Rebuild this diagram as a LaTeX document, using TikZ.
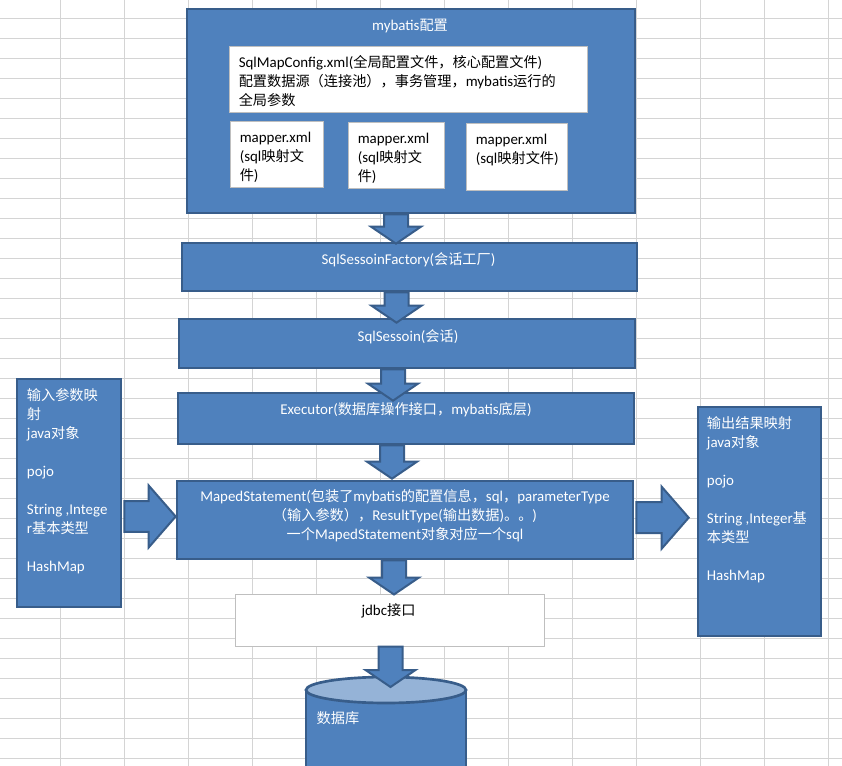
\documentclass[tikz,border=0pt]{standalone}
\usepackage{fontspec}
\setmainfont{Carlito}
\newfontfamily\zh[Scale=0.95]{Noto Sans CJK SC}
\usetikzlibrary{calc, fit, positioning}

\definecolor{xlblue}{HTML}{4F81BD}
\definecolor{xlline}{HTML}{385D8A}
\definecolor{xllight}{HTML}{95B3D7}
\definecolor{xlgrid}{HTML}{D4D4D4}
\definecolor{xlgray}{HTML}{BFBFBF}

\tikzset{
  gridline/.style={draw=xlgrid, line width=0.75pt},
  bluebox/.style={draw=xlline, fill=xlblue, line width=2pt, inner sep=0pt},
  whitebox/.style={draw=xlgray, fill=white, line width=0.75pt, inner sep=0pt},
  blkarrow/.style={draw=xlline, fill=xlblue, line width=1.5pt, line join=miter},
  dbbody/.style={draw=xlline, fill=xlblue, line width=2pt},
  wtext/.style={text=white, inner sep=0pt, font=\fontsize{11.2}{14.25}\selectfont},
  btext/.style={text=black, inner sep=0pt, font=\fontsize{11.2}{14.25}\selectfont},
}

% block arrow pointing down: #1 start (shaft top), #2 gives the tip height
\newcommand{\downblk}[2]{%
  \draw[blkarrow] let \p1=(#1), \p2=(#2) in
    (\x1-9pt,\y1) -- (\x1-9pt,\y2+12.75pt) -- (\x1-18.75pt,\y2+12.75pt) -- (\x1,\y2)
    -- (\x1+18.75pt,\y2+12.75pt) -- (\x1+9pt,\y2+12.75pt) -- (\x1+9pt,\y1) -- cycle;}

% block arrow pointing right: #1 start (shaft left), #2 gives the tip position
\newcommand{\rightblk}[2]{%
  \draw[blkarrow] let \p1=(#1), \p2=(#2) in
    (\x1,\y1+11.6pt) -- (\x2-20.25pt,\y1+11.6pt) -- (\x2-20.25pt,\y1+23.25pt) -- (\x2,\y1)
    -- (\x2-20.25pt,\y1-23.25pt) -- (\x2-20.25pt,\y1-11.6pt) -- (\x1,\y1-11.6pt) -- cycle;}

\begin{document}
\begin{tikzpicture}[x=0.75pt, y=-0.75pt]

  \useasboundingbox (0,0) rectangle (842,766);
  \clip (0,0) rectangle (842,766);
  \fill[white] (0,0) rectangle (842,766);

  % --- SPREADSHEET GRID ---
  \foreach \gx in {60,124,...,828} {
    \draw[gridline] (\gx,0) -- (\gx,766);
  }
  \foreach \gy in {18.3,38.3,...,758.3} {
    \draw[gridline] (0,\gy) -- (842,\gy);
  }

  % --- MYBATIS CONFIGURATION ---
  \node[bluebox, fit={(187,9) (635,213)}] (config) {};
  \node[wtext] (cfgtitle) at ($(config.north)+(-1,18)$) {mybatis{\zh 配置}};

  \node[whitebox, fit={(229,47) (587,113)}] (mapconfig) {};
  \node[btext, anchor=north west, align=left] (mapconfigtxt) at ($(mapconfig.north west)+(10,9)$)
    {SqlMapConfig.xml({\zh 全局配置文件，核心配置文件})\\
     {\zh 配置数据源（连接池），事务管理，}mybatis{\zh 运行的}\\
     {\zh 全局参数}};

  % mapper files
  \node[whitebox, fit={(230,122) (323,188)}] (mapperA) {};
  \node[whitebox, fit={(348,123) (444,189)}] (mapperB) {};
  \node[whitebox, fit={(466,124) (567,191)}] (mapperC) {};
  \node[btext, anchor=north west, align=left] (mapperAtxt) at ($(mapperA.north west)+(10,10)$)
    {mapper.xml\\(sql{\zh 映射文}\\{\zh 件})};
  \node[btext, anchor=north west, align=left] (mapperBtxt) at ($(mapperB.north west)+(10,10)$)
    {mapper.xml\\(sql{\zh 映射文}\\{\zh 件})};
  \node[btext, anchor=north west, align=left] (mapperCtxt) at ($(mapperC.north west)+(10,10)$)
    {mapper.xml\\(sql{\zh 映射文件})};

  % --- MAIN CHAIN ---
  \node[bluebox, fit={(182,243) (637,291)}] (factory) {};
  \node[wtext] (factorytxt) at ($(factory.north)+(-1,18.5)$) {SqlSessoinFactory({\zh 会话工厂})};

  \node[bluebox, fit={(179,319) (635,368)}] (session) {};
  \node[wtext] (sessiontxt) at ($(session.north)+(1,19)$) {SqlSessoin({\zh 会话})};

  \node[bluebox, fit={(178,393) (634,444)}] (executor) {};
  \node[wtext] (executortxt) at ($(executor.north)+(0,18)$) {Executor({\zh 数据库操作接口，}mybatis{\zh 底层})};

  \node[bluebox, fit={(177,481) (633,559)}] (maped) {};
  \node[wtext, align=center] (mapedtxt) at ($(maped.north)+(0,36)$)
    {MapedStatement({\zh 包装了}mybatis{\zh 的配置信息，}sql{\zh ，}parameterType\\
     {\zh （输入参数），}ResultType({\zh 输出数据}){\zh 。。})\\
     {\zh 一个}MapedStatement{\zh 对象对应一个}sql};

  \node[whitebox, fit={(235,594) (544,646)}] (jdbc) {};
  \node[btext] (jdbctxt) at ($(jdbc.north)+(-1,17)$) {jdbc{\zh 接口}};

  % --- INPUT / OUTPUT MAPPING ---
  \node[bluebox, fit={(17,379) (121,607)}] (inmap) {};
  \node[wtext, anchor=north west, align=left] (inmaptxt) at ($(inmap.north west)+(11,11)$)
    {{\zh 输入参数映}\\{\zh 射}\\java{\zh 对象}\\[14.25pt]pojo\\[14.25pt]String ,Intege\\r{\zh 基本类型}\\[14.25pt]HashMap};

  \node[bluebox, fit={(698,407) (821,636)}] (outmap) {};
  \node[wtext, anchor=north west, align=left] (outmaptxt) at ($(outmap.north west)+(10,11)$)
    {{\zh 输出结果映射}\\java{\zh 对象}\\[14.25pt]pojo\\[14.25pt]String ,Integer{\zh 基}\\{\zh 本类型}\\[14.25pt]HashMap};

  % --- DATABASE ---
  \coordinate (dbtop) at (386,677);
  \draw[dbbody] ($(dbtop)+(-80,13)$) -- ++(0,120) -- ++(160,0) -- ++(0,-120);
  \draw[dbbody, fill=xllight] ($(dbtop)+(0,13)$) ellipse [x radius=80, y radius=13];
  \node[wtext] (dbtxt) at ($(dbtop)+(-48,41)$) {{\zh 数据库}};

  % --- BLOCK ARROWS ---
  \downblk{$(config.south)+(-15,0)$}{$(factory.north)+(0,2)$}
  \downblk{$(factory.south)+(-13,0)$}{$(session.north)+(0,5)$}
  \downblk{$(session.south)+(-14,0)$}{$(executor.north)+(0,9)$}
  \downblk{$(executor.south)+(-14,0)$}{$(maped.north)+(0,-1)$}
  \downblk{$(maped.south)+(-11,0)$}{$(jdbc.north)+(0,1)$}
  \downblk{$(jdbc.south)+(1,0)$}{$(dbtop)+(0,10)$}

  \rightblk{$(inmap.east |- maped.west)+(2,-3.5)$}{maped.west}
  \rightblk{$(maped.east)+(2,-2.3)$}{$(outmap.west)+(-8,0)$}

\end{tikzpicture}
\end{document}
